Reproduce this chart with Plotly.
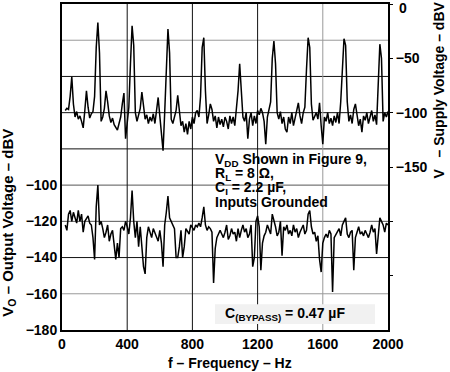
import plotly.graph_objects as go

# ---------------- data ----------------
freq_hz = list(range(20, 2001, 10))

# Supply voltage spectrum (right axis, dBV)
supply_dbv = [
    -98, -96, -97, -85, -67, -92, -104, -99,
    -106, -103, -108, -114, -98, -80, -95, -105, -101, -99,
    -85, -40, -17, -45, -108, -104, -96, -80, -90, -103,
    -109, -105, -111, -113, -116, -110, -104, -92, -82, -124,
    -108, -95, -55, -20, -38, -100, -108, -102, -96, -81,
    -97, -106, -102, -110, -104, -108, -101, -110, -98, -86,
    -103, -120, -135, -100, -50, -23, -45, -106, -110, -104,
    -98, -84, -100, -112, -108, -118, -110, -120, -108, -115,
    -104, -110, -100, -98, -104, -85, -40, -31, -80, -110,
    -102, -92, -97, -108, -103, -114, -104, -111, -106, -113,
    -104, -108, -115, -103, -110, -104, -112, -98, -80, -55,
    -85, -104, -108, -100, -124, -106, -100, -112, -103, -110,
    -98, -102, -96, -100, -108, -129, -104, -98, -90, -50,
    -34, -55, -100, -106, -99, -110, -104, -115, -118, -104,
    -110, -100, -112, -105, -98, -91, -103, -110, -100, -95,
    -60, -31, -40, -92, -107, -104, -100, -106, -91, -112,
    -129, -104, -108, -100, -110, -105, -112, -103, -109, -100,
    -110, -90, -55, -32, -38, -90, -108, -102, -110, -97,
    -92, -104, -112, -106, -118, -103, -107, -100, -110, -104,
    -98, -108, -102, -111, -70, -37, -50, -108, -100, -104,
    -99,
]

# Output voltage spectrum (left axis, dBV)
output_dbv = [
    -122, -125, -116, -114, -120, -115, -118, -121,
    -114, -120, -116, -126, -120, -118, -117, -121, -122, -129,
    -141, -112, -100, -122, -120, -124, -129, -126, -122, -131,
    -127, -125, -135, -141, -132, -140, -124, -123, -125, -120,
    -123, -127, -118, -103, -120, -129, -120, -134, -123, -132,
    -145, -149, -129, -123, -126, -129, -124, -126, -128, -131,
    -125, -132, -145, -122, -115, -106, -118, -120, -122, -124,
    -140, -140, -134, -125, -140, -134, -124, -126, -127, -122,
    -124, -125, -122, -123, -121, -123, -118, -112, -122, -125,
    -123, -124, -126, -154, -135, -129, -127, -125, -127, -129,
    -126, -122, -130, -128, -124, -127, -126, -131, -124, -129,
    -125, -122, -126, -124, -129, -127, -122, -145, -140, -120,
    -117, -123, -147, -132, -128, -126, -122, -124, -127, -116,
    -119, -123, -128, -126, -120, -139, -123, -125, -122, -127,
    -125, -128, -122, -126, -124, -129, -126, -124, -122, -127,
    -125, -116, -114, -123, -127, -126, -131, -128, -141, -148,
    -132, -129, -127, -129, -125, -127, -159, -129, -127, -126,
    -124, -128, -122, -120, -118, -127, -129, -126, -125, -147,
    -129, -126, -123, -127, -126, -128, -125, -127, -129, -126,
    -122, -126, -124, -138, -126, -118, -120, -122, -126, -121,
    -122,
]

x_ticks = [0, 400, 800, 1200, 1600, 2000]
x_tick_labels = ["0", "400", "800", "1200", "1600", "2000"]
left_ticks = [-100, -120, -140, -160, -180]
left_tick_labels = ["\u2212100", "\u2212120", "\u2212140", "\u2212160", "\u2212180"]
right_ticks = [-50, -100, -150]
right_tick_labels = ["\u221250", "\u2212100", "\u2212150"]
right_top_label = "0"
right_minor_ticks = [0, -200, -250]

h_grid = [-20, -40, -60, -80, -100, -120, -140, -160]
h_grid_colors = ["#999999", "#111111", "#111111", "#111111", "#555555", "#555555", "#111111", "#999999"]
v_grid = [400, 800, 1200, 1600]
v_grid_colors = ["#111111", "#111111", "#111111", "#999999"]

note_lines = [
    "V<sub>DD</sub> Shown in Figure 9,",
    "R<sub>L</sub> = 8 \u03a9,",
    "C<sub>I</sub> = 2.2 \u00b5F,",
    "Inputs Grounded",
]

FONT = "Liberation Sans, Arial, Helvetica, sans-serif"
W, H = 450, 372
ML, MR, MT, MB = 62, 62, 2, 42
PW, PH = W - ML - MR, H - MT - MB


def px(xp):
    return (xp - ML) / PW


def py(yp):
    return (H - MB - yp) / PH


fig = go.Figure()
fig.add_trace(go.Scatter(x=freq_hz, y=supply_dbv, yaxis="y2", mode="lines",
                         line=dict(color="black", width=1.5), showlegend=False,
                         hoverinfo="skip"))
fig.add_trace(go.Scatter(x=freq_hz, y=output_dbv, yaxis="y", mode="lines",
                         line=dict(color="black", width=1.5), showlegend=False,
                         hoverinfo="skip"))

shapes = []
for v, c in zip(h_grid, h_grid_colors):
    shapes.append(dict(type="line", xref="paper", yref="y", x0=0, x1=1, y0=v, y1=v,
                       line=dict(color=c, width=1), layer="below"))
for v, c in zip(v_grid, v_grid_colors):
    shapes.append(dict(type="line", xref="x", yref="paper", x0=v, x1=v, y0=0, y1=1,
                       line=dict(color=c, width=1), layer="below"))
# bypass label box
shapes.append(dict(type="rect", xref="paper", yref="paper",
                   x0=px(215), x1=px(375), y0=py(324), y1=py(304),
                   fillcolor="#f1f1f1", line=dict(width=0), layer="above"))

bold14 = dict(family=FONT, size=14, color="black", weight="bold")

annotations = []
note_y = [159, 173, 187, 201]
for t, yy in zip(note_lines, note_y):
    annotations.append(dict(text=t, xref="paper", yref="paper", x=px(213), y=py(yy),
                            xanchor="left", yanchor="middle", showarrow=False, font=bold14))
annotations.append(dict(text="C<sub>(BYPASS)</sub> = 0.47 \u00b5F", xref="paper", yref="paper",
                        x=px(285), y=py(314), xanchor="center", yanchor="middle", showarrow=False,
                        font=bold14))
# top label of right axis (kept inside the page)
annotations.append(dict(text=right_top_label, xref="paper", yref="paper",
                        x=px(397), y=py(6), xanchor="left", yanchor="middle", showarrow=False,
                        font=bold14))
# axis titles
annotations.append(dict(text="V<sub>O</sub> \u2013 Output Voltage \u2013 dBV", xref="paper", yref="paper",
                        x=px(9), y=py(222), xanchor="center", yanchor="middle", textangle=-90,
                        showarrow=False, font=dict(family=FONT, size=15, color="black", weight="bold")))
annotations.append(dict(text="V\u00a0\u00a0 \u2013 Supply Voltage \u2013 dBV", xref="paper", yref="paper",
                        x=px(439), y=py(89), xanchor="center", yanchor="middle", textangle=-90,
                        showarrow=False, font=bold14))
annotations.append(dict(text="f \u2013 Frequency \u2013 Hz", xref="paper", yref="paper",
                        x=px(230), y=py(363), xanchor="center", yanchor="middle",
                        showarrow=False, font=bold14))

fig.update_layout(
    width=W, height=H,
    margin=dict(l=ML, r=MR, t=MT, b=MB, pad=0),
    paper_bgcolor="white", plot_bgcolor="white",
    showlegend=False,
    shapes=shapes, annotations=annotations,
    xaxis=dict(range=[0, 2000], tickvals=x_ticks, ticktext=x_tick_labels, ticks="",
               showgrid=False, zeroline=False, showline=True, linecolor="black",
               linewidth=2, mirror=True, tickfont=bold14),
    yaxis=dict(range=[-180, 0], tickvals=left_ticks, ticktext=left_tick_labels, ticks="",
               showgrid=False, zeroline=False, showline=True, linecolor="black",
               linewidth=2, mirror=True, tickfont=bold14),
    yaxis2=dict(range=[-300, 0], overlaying="y", side="right", tickvals=right_ticks,
                ticktext=right_tick_labels, ticks="outside", ticklen=4, tickcolor="black",
                minor=dict(tickvals=right_minor_ticks, ticks="outside", ticklen=4,
                           tickcolor="black", showgrid=False),
                showgrid=False, zeroline=False, showline=False, tickfont=bold14),
)

fig.write_html("out.html", config={"displayModeBar": False},
               post_script="document.body.style.margin='0';document.body.style.padding='0';")
